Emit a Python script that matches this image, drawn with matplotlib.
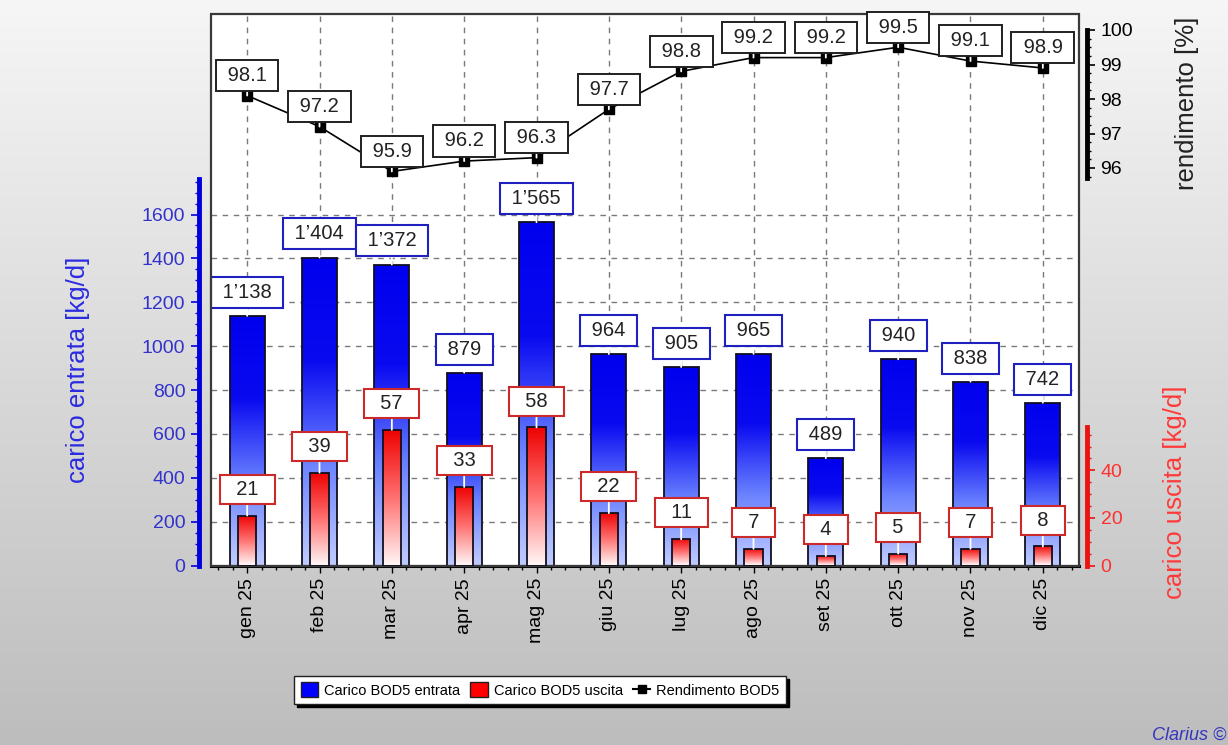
import numpy as np
import matplotlib
matplotlib.use("Agg")
import matplotlib.pyplot as plt
from matplotlib.colors import LinearSegmentedColormap
from matplotlib.patches import Rectangle, Patch
from matplotlib.lines import Line2D
from matplotlib.ticker import FixedLocator

plt.rcParams['font.family'] = ['Liberation Sans', 'DejaVu Sans']

mesi = ['gen 25', 'feb 25', 'mar 25', 'apr 25', 'mag 25', 'giu 25',
        'lug 25', 'ago 25', 'set 25', 'ott 25', 'nov 25', 'dic 25']
carico_entrata = [1138, 1404, 1372, 879, 1565, 964, 905, 965, 489, 940, 838, 742]
carico_uscita = [21, 39, 57, 33, 58, 22, 11, 7, 4, 5, 7, 8]
rendimento = [98.1, 97.2, 95.9, 96.2, 96.3, 97.7, 98.8, 99.2, 99.2, 99.5, 99.1, 98.9]

BLUE = '#0000dd'
RED = '#ee1111'

W, H = 1228, 745
fig = plt.figure(figsize=(W / 100, H / 100), dpi=100)

# grey background fading downwards
bg = fig.add_axes([0, 0, 1, 1], zorder=-10)
bg.imshow(np.linspace(0, 1, 256).reshape(-1, 1), aspect='auto', extent=[0, 1, 0, 1],
          cmap=LinearSegmentedColormap.from_list('bg', ['#f6f6f6', '#bdbdbd']))
bg.axis('off')

left, right, top, bottom = 211, 1079, 14, 565.5
ax = fig.add_axes([left / W, 1 - bottom / H, (right - left) / W, (bottom - top) / H])
ax.set_facecolor('white')
x = np.arange(len(mesi))


def fmt(v):
    return f"{v:,}".replace(',', '\u2019')


def gradient_bars(a, heights, width, colors, z):
    cmap = LinearSegmentedColormap.from_list('g', colors)
    grad = np.linspace(0, 1, 256).reshape(-1, 1)
    bars = a.bar(x, heights, width, facecolor='none', edgecolor='#101020',
                 linewidth=1.3, zorder=z + 1)
    for b in bars:
        x0, y0 = b.get_xy()
        im = a.imshow(grad, extent=[x0, x0 + b.get_width(), y0, y0 + b.get_height()],
                      origin='lower', aspect='auto', cmap=cmap, zorder=z)
        im.set_clip_path(b)
    return bars


# inflow load (left axis)
gradient_bars(ax, carico_entrata, 0.48, ['#c0ccff', '#6a82ff', '#0a0af0', '#0000ee'], 2)
ax.set_xlim(-0.5, len(mesi) - 0.5)
ax.set_ylim(0, 2514)
ax.set_axisbelow(True)
ax.grid(True, linestyle=(0, (4, 4)), color='#7a7a7a', linewidth=1)
ax.yaxis.set_major_locator(FixedLocator(np.arange(0, 1601, 200)))
ax.yaxis.set_minor_locator(FixedLocator([v for v in range(0, 1751, 50) if v % 200]))
ax.set_xticks(x)
ax.set_xticklabels(mesi, rotation=90, fontsize=14)
ax.xaxis.set_minor_locator(FixedLocator([i + d for i in range(-1, 12) for d in (0.2, 0.4, 0.6, 0.8)
                                         if -0.5 < i + d < 11.5]))
ax.tick_params(axis='x', which='major', length=5, width=1, pad=4)
ax.tick_params(axis='x', which='minor', length=3, width=1)
ax.tick_params(axis='y', which='major', colors=BLUE, labelcolor='#3232cc', labelsize=14,
               length=6, width=1.2)
ax.tick_params(axis='y', which='minor', colors=BLUE, length=3, width=1)
for s in ('top', 'right'):
    ax.spines[s].set_visible(False)
ax.spines['left'].set_position(('outward', 9))
ax.spines['left'].set_bounds(0, 1760)
ax.spines['left'].set_color(BLUE)
ax.spines['left'].set_linewidth(3.5)
ax.spines['bottom'].set_linewidth(2.2)
ax.spines['bottom'].set_color('black')
ax.add_patch(Rectangle((0, 0), 1, 1, transform=ax.transAxes, fill=False,
                       edgecolor='#3a3a3a', linewidth=1.6, clip_on=False, zorder=10))

for i, v in enumerate(carico_entrata):
    ax.annotate(f' {fmt(v)} ', xy=(i, v), xytext=(0, 17), textcoords='offset points',
                ha='center', va='center', fontsize=14.5, color='#222222', zorder=6,
                bbox=dict(boxstyle='square,pad=0.3', fc='white', ec='#2020c0', lw=1.5),
                arrowprops=dict(arrowstyle='-', color='white', lw=1.3, shrinkA=0, shrinkB=0))

# outflow load (red axis)
ax_red = ax.twinx()
gradient_bars(ax_red, carico_uscita, 0.25, ['#fff6f6', '#ff7070', '#ee0000'], 2)
ax_red.set_ylim(0, 551.5 / 2.38)
ax_red.set_xlim(-0.5, len(mesi) - 0.5)
ax_red.yaxis.set_major_locator(FixedLocator([0, 20, 40]))
ax_red.yaxis.set_minor_locator(FixedLocator([v for v in range(0, 58, 5) if v % 20]))
ax_red.tick_params(axis='y', which='major', colors=RED, labelcolor='#ff3030', labelsize=14,
                   length=6, width=1.2)
ax_red.tick_params(axis='y', which='minor', colors=RED, length=3, width=1)
for s in ('left', 'top', 'bottom'):
    ax_red.spines[s].set_visible(False)
ax_red.spines['right'].set_position(('outward', 6))
ax_red.spines['right'].set_bounds(0, 58)
ax_red.spines['right'].set_color(RED)
ax_red.spines['right'].set_linewidth(3.5)

for i, v in enumerate(carico_uscita):
    ax_red.annotate(f'  {v}  ', xy=(i, v), xytext=(0, 19), textcoords='offset points',
                    ha='center', va='center', fontsize=14.5, color='#222222', zorder=6,
                    bbox=dict(boxstyle='square,pad=0.25', fc='white', ec='#cc2a2a', lw=1.5),
                    arrowprops=dict(arrowstyle='-', color='white', lw=1.3, shrinkA=0, shrinkB=0))

# removal efficiency (black axis)
ax_r = ax.twinx()
ax_r.plot(x, rendimento, color='black', lw=1.2, marker='s', markersize=7, zorder=4)
ax_r.set_ylim(96 - 397.5 / 34.5, 100 + 16 / 34.5)
ax_r.set_xlim(-0.5, len(mesi) - 0.5)
ax_r.yaxis.set_major_locator(FixedLocator([96, 97, 98, 99, 100]))
ax_r.yaxis.set_minor_locator(FixedLocator([v for v in np.arange(95.75, 100, 0.25) if v % 1]))
ax_r.tick_params(axis='y', which='major', colors='black', labelsize=14, length=6, width=1.2)
ax_r.tick_params(axis='y', which='minor', colors='black', length=3, width=1)
for s in ('left', 'top', 'bottom'):
    ax_r.spines[s].set_visible(False)
ax_r.spines['right'].set_position(('outward', 6))
ax_r.spines['right'].set_bounds(95.7, 100)
ax_r.spines['right'].set_linewidth(3.5)

for i, v in enumerate(rendimento):
    ax_r.annotate(f' {v:.1f} ', xy=(i, v), xytext=(0, 14.5), textcoords='offset points',
                  ha='center', va='center', fontsize=14.5, color='#222222', zorder=6,
                  bbox=dict(boxstyle='square,pad=0.3', fc='white', ec='#202020', lw=1.4),
                  arrowprops=dict(arrowstyle='-', color='white', lw=1.3, shrinkA=0, shrinkB=0))

# axis titles
fig.text(78 / W, 1 - 370 / H, 'carico entrata [kg/d]', rotation=90, ha='center', va='center',
         fontsize=18.5, color='#2a2ae0')
fig.text(1175 / W, 1 - 492 / H, 'carico uscita [kg/d]', rotation=90, ha='center', va='center',
         fontsize=18.5, color='#ff3a3a')
fig.text(1187 / W, 1 - 103 / H, 'rendimento [%]', rotation=90, ha='center', va='center',
         fontsize=18.5, color='#222222')

handles = [Patch(facecolor='#0000ff', edgecolor='#202020'),
           Patch(facecolor='#ff0000', edgecolor='#202020'),
           Line2D([0], [0], color='black', lw=1.5, marker='s', markersize=6)]
leg = fig.legend(handles, ['Carico BOD5 entrata', 'Carico BOD5 uscita', 'Rendimento BOD5'],
                 loc='center', bbox_to_anchor=(540 / W, 1 - 690 / H), ncol=3, fontsize=10.5,
                 frameon=True, fancybox=False, edgecolor='#202020', framealpha=1,
                 shadow={'color': 'black', 'alpha': 1}, handlelength=1.2, handleheight=1.2,
                 handletextpad=0.4, columnspacing=0.7, borderpad=0.45)

fig.text(1226 / W, 1 - 735 / H, 'Clarius \u00a9', ha='right', va='center', fontsize=13,
         style='italic', color='#3535c0')

fig.savefig('out.png', dpi=100)
